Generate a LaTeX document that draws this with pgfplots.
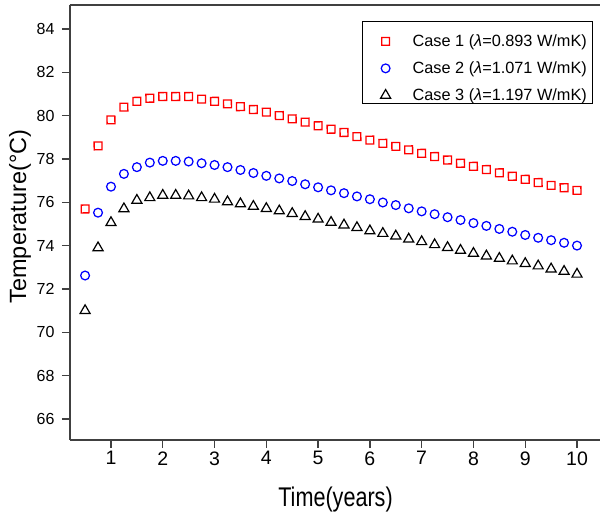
\documentclass[border=0pt]{standalone}
\usepackage{fontspec}
\setmainfont{Liberation Sans}
\usepackage{graphicx}
\usepackage{pgfplots}
\pgfplotsset{compat=1.18}
\definecolor{axgray}{RGB}{64,64,64}
\definecolor{cred}{RGB}{255,0,0}
\definecolor{cblue}{RGB}{0,0,255}

\pgfplotstableread{
x y
0.5 75.69
0.75 78.60
1.0 79.80
1.25 80.39
1.5 80.66
1.75 80.80
2.0 80.88
2.25 80.88
2.5 80.88
2.75 80.76
3.0 80.66
3.25 80.54
3.5 80.41
3.75 80.28
4.0 80.16
4.25 80.00
4.5 79.85
4.75 79.70
5.0 79.53
5.25 79.37
5.5 79.22
5.75 79.03
6.0 78.87
6.25 78.72
6.5 78.58
6.75 78.42
7.0 78.26
7.25 78.11
7.5 77.95
7.75 77.80
8.0 77.66
8.25 77.51
8.5 77.36
8.75 77.20
9.0 77.06
9.25 76.91
9.5 76.78
9.75 76.67
10.0 76.55
}\caseone

\pgfplotstableread{
x y
0.5 72.62
0.75 75.52
1.0 76.72
1.25 77.31
1.5 77.62
1.75 77.83
2.0 77.91
2.25 77.91
2.5 77.88
2.75 77.80
3.0 77.72
3.25 77.62
3.5 77.49
3.75 77.35
4.0 77.22
4.25 77.10
4.5 76.98
4.75 76.83
5.0 76.69
5.25 76.55
5.5 76.42
5.75 76.27
6.0 76.14
6.25 75.99
6.5 75.87
6.75 75.72
7.0 75.58
7.25 75.45
7.5 75.31
7.75 75.18
8.0 75.04
8.25 74.91
8.5 74.77
8.75 74.64
9.0 74.49
9.25 74.36
9.5 74.25
9.75 74.13
10.0 74.00
}\casetwo

\pgfplotstableread{
x y
0.5 71.00
0.75 73.90
1.0 75.06
1.25 75.70
1.5 76.09
1.75 76.21
2.0 76.32
2.25 76.32
2.5 76.29
2.75 76.21
3.0 76.14
3.25 76.02
3.5 75.93
3.75 75.81
4.0 75.71
4.25 75.60
4.5 75.48
4.75 75.34
5.0 75.22
5.25 75.07
5.5 74.95
5.75 74.83
6.0 74.68
6.25 74.56
6.5 74.44
6.75 74.30
7.0 74.18
7.25 74.04
7.5 73.91
7.75 73.78
8.0 73.64
8.25 73.52
8.5 73.41
8.75 73.29
9.0 73.17
9.25 73.06
9.5 72.92
9.75 72.81
10.0 72.68
}\casethree

\begin{document}
\begin{tikzpicture}
\begin{axis}[
  scale only axis,
  width=530pt, height=434.5pt,
  xmin=0.2085, xmax=10.444,
  ymin=65.03, ymax=85.08,
  axis y line*=left,
  axis line style={axgray, line width=2pt},
  xtick={1,...,10},
  ytick={66,68,...,84},
  xtick pos=left,
  tick align=outside,
  major tick length=8pt,
  every tick/.style={axgray, line width=1.3pt},
  /pgf/number format/assume math mode=true,
  xticklabel style={font=\fontsize{19.5}{23}\selectfont},
  yticklabel style={font=\fontsize{16}{19}\selectfont, xshift=-4pt},
  xlabel={\scalebox{0.8}[1]{Time(years)}},
  xlabel style={font=\fontsize{27}{30}\selectfont, at={(axis description cs:0.501,-0.1367)}, anchor=center},
  ylabel={Temperature(°C)},
  ylabel style={font=\fontsize{23.5}{27}\selectfont, at={(axis description cs:-0.0943,0.5144)}, anchor=center},
  legend cell align=left,
  legend style={at={(axis description cs:0.551,0.9643)}, anchor=north west,
    draw=black, line width=1.2pt, font=\fontsize{16.3}{19}\selectfont,
    inner xsep=5pt, inner ysep=0.5pt, row sep=0pt, column sep=12pt,
    nodes={inner sep=1pt}},
  legend image code/.code={\path[draw=none,fill=none] (0pt,-2pt) rectangle (32pt,19.3pt);
    \draw[#1] plot coordinates {(18pt,0pt)};},
]
\addplot[only marks, mark=square, mark size=3.9pt, mark options={cred, line width=1.3pt, rotate=0.5}] table[x=x,y=y] {\caseone};
\addlegendentry{Case 1 (\textit{λ}=0.893 W/mK)}
\addplot[only marks, mark=o, mark size=4.4pt, mark options={cblue, line width=1.25pt}] table[x=x,y=y] {\casetwo};
\addlegendentry{Case 2 (\textit{λ}=1.071 W/mK)}
\addplot[only marks, mark=triangle, mark size=5.8pt, mark options={black, line width=1.2pt}] table[x=x,y=y] {\casethree};
\addlegendentry{Case 3 (\textit{λ}=1.197 W/mK)}
\end{axis}
\draw[axgray, line width=2pt] (current axis.north west) -- (current axis.north east);
\pgfresetboundingbox
\path (current axis.south west) ++(-70pt,-73pt) rectangle ++(600pt,513pt);
\end{tikzpicture}
\end{document}
